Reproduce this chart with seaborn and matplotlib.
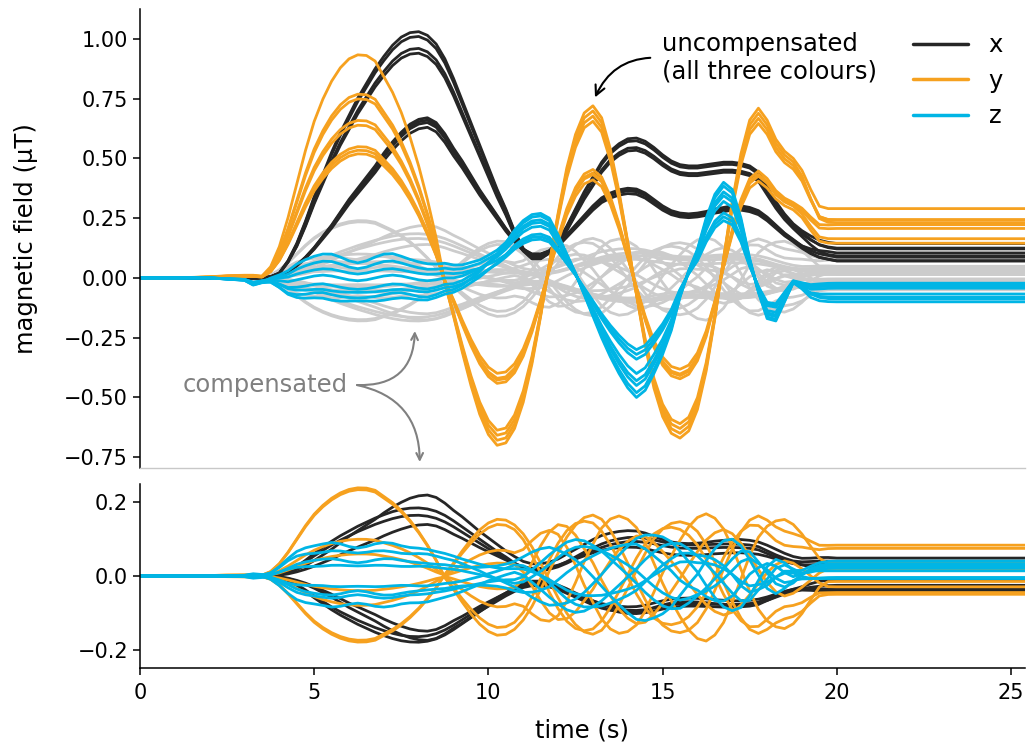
import numpy as np
import pandas as pd
import matplotlib
matplotlib.use("Agg")
import matplotlib.pyplot as plt
import seaborn as sns
from matplotlib.lines import Line2D

# ---------------------------------------------------------------------------
# Sample times (s): sparse before the manoeuvre, every 0.25 s during it,
# sparse again once everything has settled.
T = [0.0, 1.0, 2.0, 2.5] + [3.0 + 0.25 * i for i in range(69)] + [21.0, 23.0, 25.4]

# Waveform shapes on that time base; each row below covers one second
# (t, t+0.25, t+0.5, t+0.75).
X_A = [0, 0, 0, 0,
       0, 0, 0, 0.005,                  # 3 s
       0.02, 0.07, 0.14, 0.23,          # 4 s
       0.33, 0.42, 0.51, 0.59,          # 5 s
       0.66, 0.73, 0.79, 0.85,          # 6 s
       0.90, 0.945, 0.978, 0.996,       # 7 s
       1.0, 0.985, 0.95, 0.89,          # 8 s
       0.81, 0.72, 0.63, 0.54,          # 9 s
       0.45, 0.36, 0.28, 0.19,          # 10 s
       0.12, 0.085, 0.085, 0.11,        # 11 s
       0.15, 0.21, 0.28, 0.35,          # 12 s
       0.41, 0.47, 0.515, 0.545,        # 13 s
       0.565, 0.568, 0.555, 0.53,       # 14 s
       0.50, 0.475, 0.46, 0.455,        # 15 s
       0.455, 0.46, 0.465, 0.47,        # 16 s
       0.47, 0.465, 0.455, 0.43,        # 17 s
       0.37, 0.31, 0.26, 0.22,          # 18 s
       0.19, 0.165, 0.145, 0.135,       # 19 s
       0.13,
       0.13, 0.13, 0.13]
X_B = [0, 0, 0, 0,
       0, 0, 0, 0.005,
       0.015, 0.04, 0.08, 0.13,
       0.19, 0.26, 0.33, 0.41,
       0.49, 0.56, 0.63, 0.70,
       0.78, 0.85, 0.91, 0.96,
       0.99, 1.0, 0.97, 0.90,
       0.81, 0.73, 0.64, 0.55,
       0.47, 0.39, 0.31, 0.24,
       0.18, 0.15, 0.15, 0.17,
       0.21, 0.27, 0.33, 0.39,
       0.45, 0.50, 0.53, 0.55,
       0.56, 0.555, 0.53, 0.49,
       0.45, 0.42, 0.405, 0.40,
       0.405, 0.415, 0.43, 0.44,
       0.45, 0.45, 0.44, 0.42,
       0.38, 0.33, 0.28, 0.24,
       0.20, 0.17, 0.15, 0.14,
       0.13,
       0.13, 0.13, 0.13]

Y_FIRST = [0, 0, 0.005, 0.01,
           0.012, 0.012, 0.008, 0.05,
           0.14, 0.27, 0.42, 0.57,
           0.70, 0.80, 0.88, 0.94,
           0.98, 0.998, 0.995, 0.97,
           0.90, 0.83, 0.74, 0.63,
           0.50, 0.35, 0.18, 0.0,
           0, 0, 0, 0,
           0, 0, 0, 0,
           0, 0, 0, 0,
           0, 0, 0, 0,
           0, 0, 0, 0,
           0, 0, 0, 0,
           0, 0, 0, 0,
           0, 0, 0, 0,
           0, 0, 0, 0,
           0, 0, 0, 0,
           0, 0, 0, 0,
           0,
           0, 0, 0]
Y_LATER = [0, 0, 0, 0,
           0, 0, 0, 0,
           0, 0, 0, 0,
           0, 0, 0, 0,
           0, 0, 0, 0,
           0, 0, 0, 0,
           0, 0, 0, -0.02,
           -0.16, -0.31, -0.45, -0.57,
           -0.655, -0.70, -0.69, -0.63,
           -0.52, -0.36, -0.16, 0.06,
           0.27, 0.46, 0.60, 0.69,
           0.72, 0.67, 0.54, 0.36,
           0.15, -0.07, -0.28, -0.46,
           -0.58, -0.65, -0.67, -0.64,
           -0.55, -0.39, -0.17, 0.08,
           0.32, 0.52, 0.66, 0.71,
           0.66, 0.58, 0.53, 0.50,
           0.45, 0.37, 0.30, 0.29,
           0.29,
           0.29, 0.29, 0.29]
Y_QUAD = [0, 0, 0, 0,
          0, 0, 0, 0,
          0, 0, 0, 0,
          0, 0, 0, 0,
          0, 0, 0, 0,
          0, 0, 0, 0,
          0, 0, 0, 0,
          0, 0, 0, 0,
          0, 0, 0, 0,
          0.1, 0.3, 0.5, 0.65,
          0.7, 0.62, 0.45, 0.22,
          0.0, -0.25, -0.45, -0.6,
          -0.68, -0.7, -0.62, -0.45,
          -0.25, -0.05, 0.15, 0.35,
          0.52, 0.65, 0.7, 0.68,
          0.55, 0.35, 0.12, -0.1,
          -0.28, -0.4, -0.45, -0.4,
          -0.3, -0.18, -0.06, 0.0,
          0,
          0, 0, 0]

Z_MAIN = [0, 0, 0, -0.005,
          -0.01, -0.03, -0.02, -0.01,
          -0.015, -0.02, -0.01, 0.0,
          0.01, 0.015, 0.01, 0.0,
          -0.01, -0.015, -0.01, 0.0,
          0.01, 0.015, 0.01, 0.0,
          -0.01, -0.015, -0.01, 0.0,
          0.0, 0.01, 0.03, 0.05,
          0.08, 0.11, 0.15, 0.20,
          0.24, 0.265, 0.27, 0.25,
          0.18, 0.10, 0.02, -0.07,
          -0.16, -0.25, -0.33, -0.40,
          -0.46, -0.50, -0.47, -0.40,
          -0.32, -0.22, -0.08, 0.03,
          0.12, 0.25, 0.35, 0.40,
          0.37, 0.25, 0.08, -0.06,
          -0.17, -0.18, -0.10, -0.02,
          -0.04, -0.065, -0.07, -0.07,
          -0.07,
          -0.07, -0.07, -0.07]
Z_EARLY = [0, 0, 0, 0,
           0, 0, 0, 0.1,
           0.3, 0.55, 0.75, 0.85,
           0.9, 0.95, 1.0, 0.97,
           0.9, 0.86, 0.9, 0.97,
           1.0, 0.97, 0.9, 0.86,
           0.85, 0.82, 0.75, 0.68,
           0.6, 0.5, 0.4, 0.3,
           0.2, 0.12, 0.05, 0.0,
           0, 0, 0, 0,
           0, 0, 0, 0,
           0, 0, 0, 0,
           0, 0, 0, 0,
           0, 0, 0, 0,
           0, 0, 0, 0,
           0, 0, 0, 0,
           0, 0, 0, 0,
           0, 0, 0, 0,
           0,
           0, 0, 0]
Z_QUAD = [0, 0, 0, 0,
          0, 0, 0, 0,
          0, 0, 0, 0,
          0, 0, 0, 0,
          0, 0, 0, 0,
          0, 0, 0, 0,
          0, 0, 0, 0,
          0, 0, 0, 0,
          0, 0, 0, 0,
          -0.1, -0.3, -0.5, -0.7,
          -0.85, -0.97, -1.0, -0.92,
          -0.75, -0.55, -0.3, -0.05,
          0.2, 0.45, 0.68, 0.85,
          0.97, 1.0, 0.92, 0.72,
          0.48, 0.2, -0.1, -0.4,
          -0.65, -0.8, -0.7, -0.35,
          0.0, 0.3, 0.35, 0.2,
          0.05, 0.0, 0.0, 0.0,
          0,
          0, 0, 0]

# level reached once the manoeuvre has ended
SETTLE = [0, 0, 0, 0] + [0] * 64 + [0.2, 0.55, 0.85, 0.97] + [1.0] + [1.0, 1.0, 1.0]

# ---------------------------------------------------------------------------
# Uncompensated runs
raw_x_shape = ["A", "A", "A", "A", "B", "B", "B", "B"]
raw_x_peak = [1.03, 1.01, 0.96, 0.94, 0.67, 0.66, 0.65, 0.63]
raw_x_level = [0.01, -0.01, 0.0, -0.03, 0.0, -0.015, 0.02, -0.01]

raw_y_first = [0.935, 0.77, 0.75, 0.66, 0.64, 0.55, 0.535, 0.52]
raw_y_later = [1.0, 0.61, 0.94, 0.6, 0.91, 0.97, 0.57, 0.63]
raw_y_level = [0.0, 0.03, -0.03, -0.01, -0.02, -0.05, -0.02, 0.04]

raw_z_main = [1.0, 0.96, 0.9, 0.86, 0.8, 0.68, 0.64, 0.6]
raw_z_early = [-0.08, 0.09, -0.04, 0.06, 0.0, -0.1, 0.03, -0.06]
raw_z_level = [-0.03, 0.0, 0.02, -0.02, 0.03, -0.04, 0.01, 0.02]

# Compensated runs
cmp_x_shape = ["B", "A", "A", "B", "A", "B", "A", "B"]
cmp_x_peak = [0.22, 0.185, 0.165, 0.14, -0.18, -0.175, -0.165, -0.15]
cmp_x_level = [0.02, 0.016, -0.005, 0.012, -0.002, -0.017, 0.011, -0.015]

cmp_y_first = [0.24, 0.235, -0.175, -0.18, 0.06, -0.04, 0.1, -0.08]
cmp_y_later = [0.23, 0.2, -0.22, -0.2, -0.1, 0.12, -0.05, 0.05]
cmp_y_quad = [0.0, 0.05, 0.0, -0.05, 0.2, -0.2, -0.15, 0.18]
cmp_y_level = [0.017, 0.017, 0.014, 0.013, 0.014, 0.0, -0.015, 0.005]

cmp_z_main = [0.1, -0.15, 0.2, -0.1, 0.15, -0.2, 0.05, -0.05]
cmp_z_early = [0.09, 0.07, 0.045, 0.03, -0.03, -0.05, -0.085, -0.06]
cmp_z_quad = [0.05, 0.06, -0.04, -0.08, 0.08, -0.03, 0.1, -0.1]
cmp_z_level = [0.0, 0.03, 0.01, 0.02, 0.04, 0.0, 0.025, 0.03]

COMPONENTS = ["x", "y", "z"]
PALETTE = {"x": "#262626", "y": "#F6A11F", "z": "#00B5E5"}
GREY = "#CCCCCC"

# ---------------------------------------------------------------------------
t = np.array(T)
shapes = {k: np.array(v, dtype=float) for k, v in dict(
    XA=X_A, XB=X_B, Y1=Y_FIRST, Y2=Y_LATER, YQ=Y_QUAD,
    ZM=Z_MAIN, ZE=Z_EARLY, ZQ=Z_QUAD, S=SETTLE).items()}
for name, arr in shapes.items():
    assert len(arr) == len(t), (name, len(arr), len(t))


def zeros_like(seq):
    return [0.0] * len(seq)


def x_traces(kind, peak, level):
    return [p * shapes["X" + k] + l * shapes["S"]
            for k, p, l in zip(kind, peak, level)]


def y_traces(first, later, level, quad=None):
    quad = quad or zeros_like(first)
    return [a * shapes["Y1"] + b * shapes["Y2"] + q * shapes["YQ"]
            + l * shapes["S"] for a, b, q, l in zip(first, later, quad, level)]


def z_traces(main, early, level, quad=None):
    quad = quad or zeros_like(main)
    return [m * shapes["ZM"] + e * shapes["ZE"] + q * shapes["ZQ"]
            + l * shapes["S"] for m, e, q, l in zip(main, early, quad, level)]


def to_frame(groups, tag):
    rows = []
    for comp, traces in zip(COMPONENTS, groups):
        for i, v in enumerate(traces):
            rows.append(pd.DataFrame({"time": t, "field": v,
                                      "component": comp,
                                      "trace": f"{tag}-{comp}{i}"}))
    return pd.concat(rows, ignore_index=True)


raw = to_frame([x_traces(raw_x_shape, raw_x_peak, raw_x_level),
                y_traces(raw_y_first, raw_y_later, raw_y_level),
                z_traces(raw_z_main, raw_z_early, raw_z_level)], "raw")
cmp = to_frame([x_traces(cmp_x_shape, cmp_x_peak, cmp_x_level),
                y_traces(cmp_y_first, cmp_y_later, cmp_y_level, cmp_y_quad),
                z_traces(cmp_z_main, cmp_z_early, cmp_z_level, cmp_z_quad)],
               "cmp")

# ---------------------------------------------------------------------------
sns.set_theme(style="ticks")
plt.rcParams["font.family"] = ["DejaVu Sans"]
TICK_FS = 15
TEXT_FS = 17.5
plt.rcParams.update({
    "text.color": "black", "axes.labelcolor": "black",
    "axes.edgecolor": "black", "xtick.color": "black", "ytick.color": "black",
    "axes.linewidth": 1.1,
    "xtick.major.width": 1.1, "ytick.major.width": 1.1,
    "xtick.major.size": 5, "ytick.major.size": 5,
    "xtick.major.pad": 6,
    "xtick.labelsize": TICK_FS, "ytick.labelsize": TICK_FS,
    "axes.labelsize": TEXT_FS,
})
LW = 2.0

fig = plt.figure(figsize=(10.27, 7.47), dpi=100)
ax_top = fig.add_axes([0.1363, 0.3735, 0.8617, 0.6145])
ax_bot = fig.add_axes([0.1363, 0.1058, 0.8617, 0.2463])

sns.lineplot(data=cmp, x="time", y="field", units="trace", estimator=None,
             color=GREY, lw=LW, sort=False, legend=False, ax=ax_top)
sns.lineplot(data=raw, x="time", y="field", hue="component",
             hue_order=COMPONENTS, palette=PALETTE, units="trace",
             estimator=None, lw=LW, sort=False, legend=False, ax=ax_top)
sns.lineplot(data=cmp, x="time", y="field", hue="component",
             hue_order=COMPONENTS, palette=PALETTE, units="trace",
             estimator=None, lw=LW, sort=False, legend=False, ax=ax_bot)

for ax in (ax_top, ax_bot):
    ax.set_xlim(0, 25.4)
    for side in ("top", "right"):
        ax.spines[side].set_visible(False)

ax_top.set_ylim(-0.795, 1.125)
ax_top.set_yticks([-0.75, -0.5, -0.25, 0, 0.25, 0.5, 0.75, 1.0])
ax_top.tick_params(axis="x", bottom=False, labelbottom=False)
ax_top.spines["bottom"].set_color("#C8C8C8")
ax_top.spines["bottom"].set_linewidth(1.0)
ax_top.set_xlabel("")
ax_top.set_ylabel("magnetic field (µT)", labelpad=19)

ax_bot.set_ylim(-0.25, 0.25)
ax_bot.set_yticks([-0.2, 0.0, 0.2])
ax_bot.set_xticks([0, 5, 10, 15, 20, 25])
ax_bot.set_xlabel("time (s)", labelpad=11)
ax_bot.set_ylabel("")

# legend
handles = [Line2D([], [], color=PALETTE[c], lw=2.5) for c in COMPONENTS]
ax_top.legend(handles, COMPONENTS, loc="upper right", frameon=False,
              fontsize=TEXT_FS, handlelength=2.25, handletextpad=0.85,
              labelspacing=0.48, bbox_to_anchor=(1.0, 0.995))

# annotations
ax_top.annotate("uncompensated\n(all three colours)", xy=(13.06, 0.755),
                xytext=(14.98, 0.92), ha="left", va="center",
                fontsize=TEXT_FS,
                arrowprops=dict(arrowstyle="->", color="black", lw=1.5,
                                connectionstyle="arc3,rad=0.35",
                                relpos=(0, 0.5), shrinkA=6, shrinkB=0))
ax_top.text(3.59, -0.448, "compensated", ha="center", va="center",
            fontsize=TEXT_FS, color="#808080")
ax_top.annotate("", xy=(7.89, -0.222), xytext=(6.23, -0.448),
                arrowprops=dict(arrowstyle="->", color="#808080", lw=1.5,
                                connectionstyle="arc3,rad=0.5",
                                shrinkA=0, shrinkB=0))
ax_top.annotate("", xy=(8.03, -0.77), xytext=(6.23, -0.448),
                annotation_clip=False,
                arrowprops=dict(arrowstyle="->", color="#808080", lw=1.5,
                                connectionstyle="arc3,rad=-0.4",
                                shrinkA=0, shrinkB=0))

fig.savefig("out.png", dpi=100)
